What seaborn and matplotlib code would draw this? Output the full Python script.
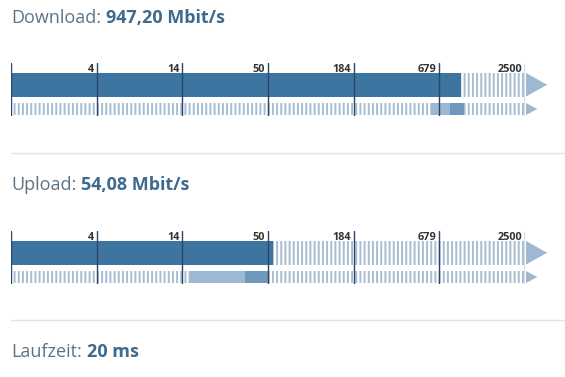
import numpy as np
import pandas as pd
import matplotlib
matplotlib.use("Agg")
import matplotlib.pyplot as plt
import matplotlib.transforms as mtransforms
from matplotlib.patches import Polygon
from matplotlib.lines import Line2D
import seaborn as sns

# ---------------- data ----------------
panel_names = ["Download", "Upload"]
speed_values = [947.20, 54.08]
speed_texts = ["947,20 Mbit/s", "54,08 Mbit/s"]
range_low = [597.0, 15.3]
range_mid = [798.0, 35.2]
range_high = [988.0, 50.0]
tick_values = [3.684, 13.572, 50.0, 184.2, 678.6, 2500.0]
tick_labels = ["4", "14", "50", "184", "679", "2500"]
scale_min = 1.0
scale_max = 2500.0
latency_name = "Laufzeit"
latency_text = "20 ms"

# ---------------- style ----------------
sns.set_theme(style="white")
plt.rcParams["font.family"] = ["Open Sans", "DejaVu Sans"]
plt.rcParams["hatch.linewidth"] = 1.4

BAR = "#3d74a0"
STRIPE = "#a6bed3"
BAND_LIGHT = "#9cb9d1"
BAND_DARK = "#6e99bd"
ARROW = "#9db8d0"
TICK = "#29476a"
TICK_TXT = "#333333"
TITLE_REG = "#5d7385"
TITLE_BOLD = "#3e6a8e"
SEP = "#e2e5e7"

W, H = 565, 377
fig = plt.figure(figsize=(W / 100, H / 100), dpi=100)
fig.patch.set_facecolor("white")

# layout in pixels
X0, X1 = 11, 525
panel_tops = [63, 231]
title_baselines = [23, 190, 357]
sep_lines = [153, 320]
PANEL_H = 53
MAIN_C, MAIN_H = 21.75, 23.5
LOW_C, LOW_H = 46.0, 12.0


def px_axes(x0, y0, x1, y1):
    return fig.add_axes([x0 / W, 1 - y1 / H, (x1 - x0) / W, (y1 - y0) / H])


for i, name in enumerate(panel_names):
    top = panel_tops[i]
    ax = px_axes(X0, top, X1, top + PANEL_H)
    ax.set_xscale("log")

    # striped background rows
    for c, h in [(MAIN_C, MAIN_H), (LOW_C, LOW_H)]:
        ax.barh(c, scale_max - scale_min, left=scale_min, height=h,
                color="white", edgecolor=STRIPE, linewidth=0, hatch="||||", zorder=1)

    # main bar (seaborn)
    df = pd.DataFrame({"speed": [speed_values[i]], "row": [MAIN_C]})
    sns.barplot(data=df, x="speed", y="row", orient="h", native_scale=True,
                width=MAIN_H, color=BAR, saturation=1, linewidth=0, ax=ax,
                zorder=2, errorbar=None)

    # range bands in the lower row
    ax.barh(LOW_C, range_mid[i] - range_low[i], left=range_low[i], height=LOW_H,
            color=BAND_LIGHT, linewidth=0, zorder=2)
    ax.barh(LOW_C, range_high[i] - range_mid[i], left=range_mid[i], height=LOW_H,
            color=BAND_DARK, linewidth=0, zorder=2)

    # scale lines and labels
    ax.axvline(scale_min, color=TICK, lw=1.0, zorder=5)
    for tv, tl in zip(tick_values, tick_labels):
        ax.axvline(tv, color=TICK, lw=1.0, zorder=5)
        ax.annotate(tl, xy=(tv, 0), xycoords="data", xytext=(-3, -8.5),
                    textcoords="offset pixels", ha="right", va="baseline",
                    fontsize=7.8, fontweight="bold", color=TICK_TXT,
                    annotation_clip=False)

    # arrows
    tr = mtransforms.blended_transform_factory(ax.transAxes, ax.transData)
    ax.add_patch(Polygon([(1.002, MAIN_C - MAIN_H / 2), (1.043, MAIN_C),
                          (1.002, MAIN_C + MAIN_H / 2)], closed=True,
                         transform=tr, color=ARROW, clip_on=False, lw=0))
    ax.add_patch(Polygon([(1.002, LOW_C - LOW_H / 2), (1.024, LOW_C),
                          (1.002, LOW_C + LOW_H / 2)], closed=True,
                         transform=tr, color=ARROW, clip_on=False, lw=0))

    ax.set_xlim(scale_min, scale_max)
    ax.set_ylim(PANEL_H, 0)
    ax.set_axis_off()

# separators
for y in sep_lines:
    fig.add_artist(Line2D([X0 / W, 1.0], [1 - y / H, 1 - y / H], color=SEP, lw=1.0))

# titles
titles = [(panel_names[0], speed_texts[0]), (panel_names[1], speed_texts[1]),
          (latency_name, latency_text)]
fig.canvas.draw()
renderer = fig.canvas.get_renderer()
for (reg, bold), yb in zip(titles, title_baselines):
    t1 = fig.text(X0 / W, 1 - yb / H, reg + ":", fontsize=13, color=TITLE_REG,
                  ha="left", va="baseline")
    bb = t1.get_window_extent(renderer=renderer)
    fig.text((bb.x1 + 5) / W, 1 - yb / H, bold, fontsize=13, fontweight="bold",
             color=TITLE_BOLD, ha="left", va="baseline")

fig.savefig("out.png", dpi=100, facecolor="white")
